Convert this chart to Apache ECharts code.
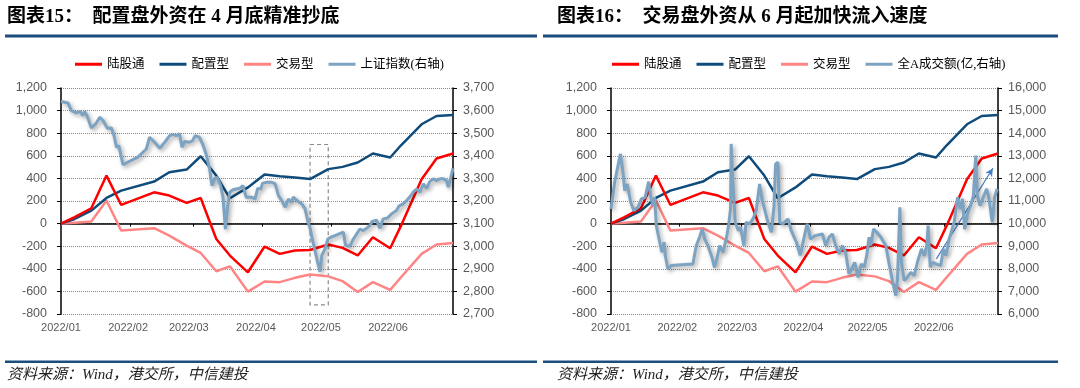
<!DOCTYPE html>
<html>
<head>
<meta charset="utf-8">
<script src="https://cdn.jsdelivr.net/npm/echarts@6/dist/echarts.min.js"></script>
<style>
html,body{margin:0;padding:0;background:#fff;}
#c{width:1080px;height:388px;}
</style>
</head>
<body>
<div id="c"></div>
<script>
// ---------- DATA ----------
// weekly flow points (day offset from 2022-01-01), cumulative net buy (亿元)
const flowDays   = [0, 6.3, 14, 21, 27.8, 43, 50, 58, 64.5, 71.7, 78, 86.3, 94, 101, 108, 115, 123.4, 130, 137, 144, 152, 157, 166.5, 173.4, 181];
const northbound = [0, 58, 136, 425, 165, 277, 248, 183, 227, -136, -283, -431, -203, -268, -238, -233, -185, -215, -282, -121, -218, -18, 393, 576, 620];
const allocation = [0, 41, 115, 227, 292, 372, 454, 478, 596, 425, 224, 320, 435, 420, 408, 394, 482, 502, 541, 620, 585, 693, 879, 952, 961];
const trading    = [0, 8, 18, 204, -62, -41, -106, -195, -260, -422, -378, -602, -512, -518, -480, -450, -467, -509, -606, -518, -586, -475, -268, -185, -171];

// 上证指数 (daily)
const shDays = [0,3.2,4.8,7,9,10,11,12.3,14,16,17.9,19.4,21.4,23.3,24.5,25.6,26.7,28.6,35.5,39.4,40.9,43.2,45.6,47.9,50.2,51.7,53.2,54.7,55.9,57,59.3,60.8,61.9,63.9,65.4,67,68.6,69.7,70.9,72.1,73.7,74.8,75.9,76.8,77.9,79.4,82.5,84,85.5,87.8,89.6,90.8,92.3,93,95,97.3,98.9,100.4,101.9,103.5,105,106.3,107.3,108.9,111.2,112.7,113.9,115,116,117.3,118.5,119.6,120.4,121.9,123.2,124.7,127.3,130.4,131.4,133.4,135,136.5,138,139.6,141,142.6,143.7,145.7,147.2,148.8,150.8,152.6,154.9,156,158,159.6,161.6,162.6,164.2,165.7,167.3,168.8,170.3,171.9,173.4,175,176.5,178,178.8,180,181];
const shIndex = [3640,3634,3600,3590,3596,3578,3596,3570,3523,3541,3570,3556,3522,3523,3489,3438,3445,3361,3394,3430,3482,3460,3433,3460,3489,3494,3489,3497,3438,3463,3460,3467,3489,3482,3452,3408,3342,3268,3298,3305,3268,3217,3076,3165,3239,3250,3256,3268,3217,3217,3209,3256,3253,3278,3283,3283,3276,3224,3202,3172,3209,3194,3217,3202,3187,3165,3113,3081,3032,2980,2929,2888,2958,2988,3032,3040,3050,3062,3003,3000,3032,3054,3076,3069,3079,3091,3110,3115,3080,3121,3125,3143,3158,3177,3187,3202,3224,3239,3253,3239,3276,3256,3286,3298,3290,3298,3298,3290,3261,3305,3345];

// 全A成交额 (亿, daily)
const toDays = [0,1.7,4.4,5.6,6.4,7.6,9.2,10.7,12.6,14.2,16,17.6,18.5,19.6,20.4,21.2,22.8,23.8,24.8,25.4,26.6,28.2,38.3,39.9,41.4,42.7,43.8,45.3,47.2,48.4,49.7,50.8,52.3,53.9,55,55.9,56.2,57,58.1,59.6,60.6,62.1,63.2,64.8,66.4,67.9,69.5,70.6,71.8,73.4,75,76.2,77,78.1,78.9,80.4,82.8,84.3,86.7,88.5,91.7,93.3,95.6,98.9,100.4,102,103.5,105.1,106.7,108.2,109.7,111.3,112.9,114,115.5,117.1,118.4,119.6,120.7,121.5,122.8,124.3,126.2,128.5,130.1,131.6,133.2,134,135.1,135.8,137.1,138.6,140.2,141.8,143.3,145.2,146.5,147.7,148.3,149.3,150.4,151.9,154.2,155.5,156.6,158.2,160.5,162.1,163.3,164.4,165.4,166.7,168.2,169.5,170.6,171.3,172.6,174.1,175.7,176.8,178.3,179.4,180.6];
const turnover = [10649,11829,13083,12272,11460,11755,10944,10575,10723,11092,11165,11859,11239,10797,11165,9911,9174,8732,9174,8584,7994,8142,8216,9027,9395,9764,9321,9027,8510,8068,8510,9027,8732,9321,9911,10649,13525,11829,10059,9690,9838,9027,10059,9985,10207,10575,11755,11092,10649,10059,9616,10723,12640,12714,10059,9985,10207,9690,9174,8600,9985,9321,9469,9543,9027,9395,9543,9027,8658,9027,8732,7773,8068,8289,7625,8216,8068,8584,9395,9027,9764,9616,9395,9027,8216,7478,6814,7552,10723,8289,7478,7625,7847,7699,8289,8879,8584,9027,9911,8068,8289,8216,8142,8879,8584,9321,10059,11165,10649,11092,9750,10428,10797,11239,13009,11239,10797,11165,11534,11092,10059,11165,11534];

// x axis: day offsets of month labels, ticks on zero line
const totalDays = 181;
const monthDays   = [0, 31, 59, 90, 120, 151];
const monthLabels = ['2022/01', '2022/02', '2022/03', '2022/04', '2022/05', '2022/06'];
const zeroTickDays = [32, 61, 93, 125, 156];

// annotations
const boxDays = [115, 123.4], boxValues = [700, -720];          // dashed box, left chart
const arrowDays = [152.2, 178.6], arrowValues = [8437, 12449];   // arrow, right chart

// axes
const leftAxis = {min: -800, max: 1200, interval: 200};
const shAxis = {min: 2700, max: 3700, interval: 100};
const toAxis = {min: 6000, max: 16000, interval: 1000};

const titles = ['图表15：  配置盘外资在 4 月底精准抄底', '图表16：  交易盘外资从 6 月起加快流入速度'];
const seriesNames = ['陆股通', '配置型', '交易型'];
const rightNames = ['上证指数(右轴)', '全A成交额(亿,右轴)'];
const source = '资料来源：Wind，港交所，中信建投';

// ---------- STYLE ----------
const C = {red: '#FF0000', navy: '#0F4C7C', pink: '#FF8585', steel: '#7DA3C2', rule: '#1C4E7D', grey: '#595959'};
const CJK = '"Liberation Serif", "Noto Sans CJK SC", sans-serif';
const LAB = '"Liberation Sans", Arial, sans-serif';
const fmt = v => v.toLocaleString('en-US');

const cats = Array.from({length: totalDays + 1}, (_, i) => String(i));
const grids = [
  {left: 61, top: 88, width: 392, height: 226},
  {left: 611, top: 88, width: 387, height: 226}
];

const xAxis = [], yAxis = [], series = [];
grids.forEach((g, gi) => {
  // 0: data value axis (hidden)
  xAxis.push({type: 'value', gridIndex: gi, min: 0, max: totalDays, show: false, axisLine: {onZero: false}});
  // 1: zero line with ticks
  xAxis.push({type: 'category', gridIndex: gi, data: cats, boundaryGap: false, position: 'bottom',
    axisLine: {show: true, onZero: true, onZeroAxisIndex: gi * 2, lineStyle: {color: '#000', width: 1.5}},
    axisTick: {show: true, length: 3, inside: false, lineStyle: {color: '#000', width: 1},
      interval: (idx) => zeroTickDays.includes(idx)},
    axisLabel: {show: false}, splitLine: {show: false}});
  // 2: month labels at bottom
  xAxis.push({type: 'category', gridIndex: gi, data: cats, boundaryGap: false, position: 'bottom',
    axisLine: {show: false, onZero: false}, axisTick: {show: false}, splitLine: {show: false},
    axisLabel: {show: true, interval: (idx) => monthDays.includes(idx),
      formatter: (v, idx) => monthLabels[monthDays.indexOf(+v)] || '',
      margin: 8, fontSize: 11, color: C.grey, fontFamily: LAB}});

  const ra = gi === 0 ? shAxis : toAxis;
  yAxis.push({type: 'value', gridIndex: gi, position: 'left', min: leftAxis.min, max: leftAxis.max, interval: leftAxis.interval,
    axisLine: {show: true, onZero: false, lineStyle: {color: '#000', width: 1.5}},
    axisTick: {show: true, length: 4, lineStyle: {color: '#000'}},
    axisLabel: {formatter: fmt, margin: 14, fontSize: 12.5, color: C.grey, fontFamily: LAB},
    splitLine: {show: true, lineStyle: {color: '#8a8a8a', type: 'dotted', width: 1}}});
  yAxis.push({type: 'value', gridIndex: gi, position: 'right', min: ra.min, max: ra.max, interval: ra.interval,
    axisLine: {show: true, onZero: false, lineStyle: {color: '#000', width: 1.5}},
    axisTick: {show: true, length: 4, lineStyle: {color: '#000'}},
    axisLabel: {formatter: fmt, margin: 10, fontSize: 12.5, color: C.grey, fontFamily: LAB},
    splitLine: {show: false}});

  const xi = gi * 3, yl = gi * 2, yr = gi * 2 + 1;
  const mk = (vals) => flowDays.map((d, i) => [d, vals[i]]);
  const base = {type: 'line', xAxisIndex: xi, yAxisIndex: yl, showSymbol: false, symbol: 'none', animation: false, silent: true};
  series.push(Object.assign({}, base, {name: seriesNames[2], data: mk(trading), color: C.pink, lineStyle: {color: C.pink, width: 2.5}, z: 2}));
  series.push(Object.assign({}, base, {name: seriesNames[1], data: mk(allocation), color: C.navy, lineStyle: {color: C.navy, width: 2.5}, z: 3}));
  const nb = Object.assign({}, base, {name: seriesNames[0], data: mk(northbound), color: C.red, lineStyle: {color: C.red, width: 2.5}, z: 4});
  if (gi === 0) {
    nb.markArea = {silent: true, itemStyle: {color: 'rgba(0,0,0,0)', borderColor: '#8c8c8c', borderWidth: 1.2, borderType: [4, 3]},
      label: {show: false},
      data: [[{coord: [boxDays[0], boxValues[0]]}, {coord: [boxDays[1], boxValues[1]]}]]};
  }
  series.push(nb);
  const rd = gi === 0 ? shDays.map((d, i) => [d, shIndex[i]]) : toDays.map((d, i) => [d, turnover[i]]);
  const rs = Object.assign({}, base, {name: rightNames[gi], yAxisIndex: yr, data: rd, color: C.steel,
    lineStyle: {color: C.steel, width: 3, shadowColor: 'rgba(0,0,0,0.35)', shadowBlur: 4, shadowOffsetX: 2, shadowOffsetY: 2}, z: 5});
  if (gi === 1) {
    rs.markLine = {silent: true, symbol: ['none', 'arrow'], symbolSize: [6, 8], label: {show: false},
      lineStyle: {color: '#4A7CC4', width: 1.2, type: 'solid', shadowBlur: 0, shadowOffsetX: 0, shadowOffsetY: 0},
      data: [[{coord: [arrowDays[0], arrowValues[0]]}, {coord: [arrowDays[1], arrowValues[1]]}]]};
  }
  series.push(rs);
});

const legendBase = {orient: 'horizontal', top: 53, itemWidth: 27, itemHeight: 3, itemGap: 15, icon: 'rect',
  textStyle: {fontSize: 12.5, color: '#000', fontFamily: CJK}, selectedMode: false};
const legends = [
  Object.assign({}, legendBase, {left: 70, data: [seriesNames[0], seriesNames[1], seriesNames[2], rightNames[0]]}),
  Object.assign({}, legendBase, {left: 607, data: [seriesNames[0], seriesNames[1], seriesNames[2], rightNames[1]]})
];

const graphic = [
  {type: 'text', left: 7, top: 8, style: {text: titles[0], font: 'bold 19px ' + CJK, fill: '#000'}},
  {type: 'text', left: 557, top: 8, style: {text: titles[1], font: 'bold 19px ' + CJK, fill: '#000'}},
  {type: 'rect', shape: {x: 5, y: 34.5, width: 532, height: 3}, style: {fill: C.rule}},
  {type: 'rect', shape: {x: 543, y: 34.5, width: 515, height: 3}, style: {fill: C.rule}},
  {type: 'rect', shape: {x: 5, y: 360.5, width: 532, height: 2.5}, style: {fill: C.rule}},
  {type: 'rect', shape: {x: 543, y: 360.5, width: 515, height: 2.5}, style: {fill: C.rule}},
  {type: 'text', left: 7, top: 368, style: {text: source, font: 'italic 15px ' + CJK, fill: '#222'}},
  {type: 'text', left: 557, top: 368, style: {text: source, font: 'italic 15px ' + CJK, fill: '#222'}}
];

const chart = echarts.init(document.getElementById('c'), null, {renderer: 'canvas'});
chart.setOption({
  animation: false,
  backgroundColor: '#fff',
  grid: grids,
  xAxis, yAxis, series,
  legend: legends,
  graphic
});
</script>
</body>
</html>
